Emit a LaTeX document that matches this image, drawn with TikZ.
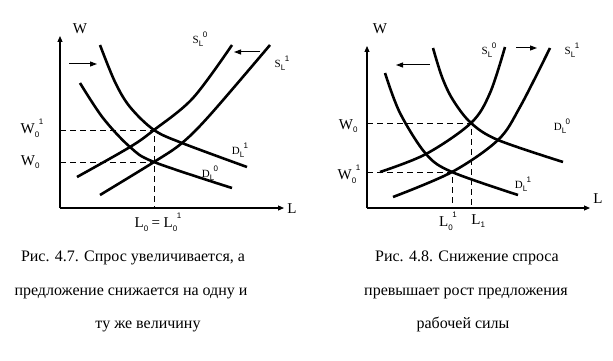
\documentclass[tikz,border=0pt]{standalone}
\usepackage{fontspec}
\setmainfont{Liberation Serif}
\newfontfamily\subf{Liberation Sans}
\usetikzlibrary{arrows.meta}
\newcommand{\subsz}{\subf\fontsize{8}{8}\selectfont}
\newcommand{\ix}[3]{#1\raisebox{-0.22em}{\subsz #2}\kern-0.5pt\raisebox{0.62em}{\subsz #3}}
\begin{document}
\begin{tikzpicture}[x=1pt,y=-1pt,
  axis/.style={line width=1.1pt,-{Triangle[length=6pt,width=5pt]}},
  curve/.style={line width=2.6pt,smooth,tension=0.55},
  guide/.style={line width=0.8pt,dash pattern=on 6pt off 4pt},
  movearrow/.style={line width=1pt,-{Triangle[length=7pt,width=5pt]}},
  big/.style={font=\fontsize{15}{15}\selectfont,inner sep=0pt},
  small/.style={font=\fontsize{11}{11}\selectfont,inner sep=0pt},
  captext/.style={font=\fontsize{16}{16}\selectfont,inner sep=0pt,anchor=base}]
\useasboundingbox (0,0) rectangle (613,361);
% ---------- left panel ----------
\coordinate (Lo) at (60,208);
\coordinate (Ly) at (60,36);
\coordinate (Lx) at (284,208);
\draw[axis] (Lo) -- (Ly);
\draw[axis] (Lo) -- (Lx);
\node[big] (lW) at (80,29) {W};
\node[big] (lL) at (292,209) {L};
\coordinate (E1) at (154,130);
\coordinate (E0) at (154,162);
\draw[guide] (60,130) -- (E1) -- (154,208);
\draw[guide] (60,162) -- (E0);
\draw[curve] plot coordinates {(77,177) (130,147) (E1) (193,98) (232,45)};
\draw[curve] plot coordinates {(100,195) (E0) (182,143) (210,115) (270,45)};
\draw[curve] plot coordinates {(100,45) (115,82) (130,107) (E1) (182,143) (247,167)};
\draw[curve] plot coordinates {(80,83) (103,118) (130,147) (E0) (232,188)};
\coordinate (la1) at (69,64); \coordinate (la2) at (97,64);
\draw[movearrow] (la1) -- (la2);
\coordinate (lb1) at (260,52); \coordinate (lb2) at (234,52);
\draw[movearrow] (lb1) -- (lb2);
\node[small] (lS0) at (200,39) {\ix{S}{L}{0}};
\node[small] (lS1) at (282,63) {\ix{S}{L}{1}};
\node[small] (lD1) at (240,150) {\ix{D}{L}{1}};
\node[small] (lD0) at (210,173) {\ix{D}{L}{0}};
\node[big] (lW01) at (32,128) {\ix{W}{0}{1}};
\node[big] (lW0) at (30,162) {\ix{W}{0}{}};
\node[big] (lL0) at (158,222) {\ix{L}{0}{} = \ix{L}{0}{1}};
% ---------- right panel ----------
\coordinate (Ro) at (367,208);
\coordinate (Ry) at (367,46);
\coordinate (Rx) at (590,208);
\draw[axis] (Ro) -- (Ry);
\draw[axis] (Ro) -- (Rx);
\node[big] (rW) at (380,29) {W};
\node[big] (rL) at (598,199) {L};
\coordinate (F0) at (471,123);
\coordinate (F1) at (452,172);
\draw[guide] (367,123) -- (F0) -- (471,208);
\draw[guide] (367,172) -- (F1) -- (452,208);
\draw[curve] plot coordinates {(380,172) (426,154) (F0) (490,93) (505,47)};
\draw[curve] plot coordinates {(393,197) (F1) (498,140) (520,107) (550,48)};
\draw[curve] plot coordinates {(433,48) (442,77) (453,100) (F0) (498,140) (563,162)};
\draw[curve] plot coordinates {(385,73) (400,113) (426,154) (F1) (518,195)};
\coordinate (ra1) at (430,65); \coordinate (ra2) at (396,65);
\draw[movearrow] (ra1) -- (ra2);
\coordinate (rb1) at (516,48); \coordinate (rb2) at (537,48);
\draw[movearrow] (rb1) -- (rb2);
\node[small] (rS0) at (489,50) {\ix{S}{L}{0}};
\node[small] (rS1) at (572,50) {\ix{S}{L}{1}};
\node[small] (rD0) at (562,126) {\ix{D}{L}{0}};
\node[small] (rD1) at (523,184) {\ix{D}{L}{1}};
\node[big] (rW0) at (348,126) {\ix{W}{0}{}};
\node[big] (rW01) at (349,174) {\ix{W}{0}{1}};
\node[big] (rL01) at (448,221) {\ix{L}{0}{1}};
\node[big] (rL1) at (478,221) {\ix{L}{1}{}};
% ---------- captions ----------
\node[captext] (c1) at (133,261) {Рис. 4.7. Спрос увеличивается, а};
\node[captext] (c2) at (131,295) {предложение снижается на одну и};
\node[captext] (c3) at (148,328) {ту же величину};
\node[captext] (c4) at (467,261) {Рис. 4.8. Снижение спроса};
\node[captext] (c5) at (466,295) {превышает рост предложения};
\node[captext] (c6) at (463,328) {рабочей силы};
\end{tikzpicture}
\end{document}
